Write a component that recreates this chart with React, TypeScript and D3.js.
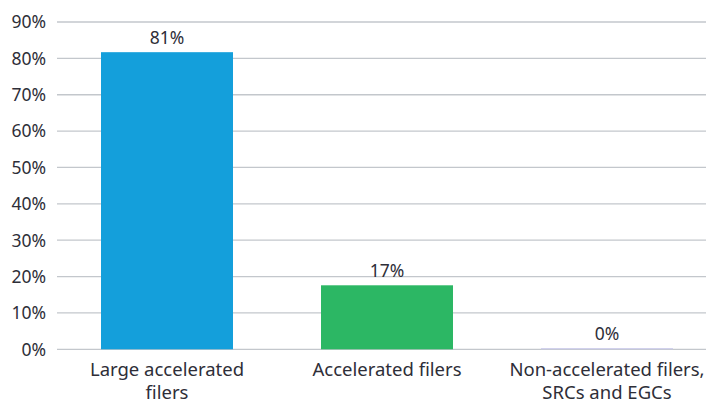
import React from "react";
import * as d3 from "d3";

const categories: string[][] = [
  ["Large accelerated", "filers"],
  ["Accelerated filers"],
  ["Non-accelerated filers,", "SRCs and EGCs"],
];
const values: number[] = [81.7, 17.6, 0.3];
const valueLabels: string[] = ["81%", "17%", "0%"];
const colors: string[] = ["#149fdb", "#2cb764", "#c9c9ea"];
const yTicks: number[] = [0, 10, 20, 30, 40, 50, 60, 70, 80, 90];

const W = 706;
const H = 400;
const FONT = "'Noto Sans', sans-serif";
const TEXT = "#2e2e38";

export default function App() {
  const x = d3
    .scaleBand<number>()
    .domain(d3.range(categories.length))
    .range([57, 717])
    .paddingInner(0.4)
    .paddingOuter(0.2);
  const y = d3.scaleLinear().domain([0, 90]).range([349.3, 22]);

  return (
    <svg
      width={W}
      height={H}
      style={{ position: "absolute", left: 0, top: 0, fontFamily: FONT }}
    >
      {yTicks.map((t) => (
        <g key={t}>
          <line
            x1={57}
            x2={W}
            y1={y(t)}
            y2={y(t)}
            stroke="#c3c7cc"
            strokeWidth={1.3}
          />
          <text
            x={46}
            y={y(t)}
            dy="0.36em"
            textAnchor="end"
            fontSize={17.5}
            fill={TEXT}
          >
            {t}%
          </text>
        </g>
      ))}
      {values.map((v, i) => (
        <g key={i}>
          <rect
            x={x(i)}
            y={y(v)}
            width={x.bandwidth()}
            height={y(0) - y(v)}
            fill={colors[i]}
          />
          <text
            x={(x(i) as number) + x.bandwidth() / 2}
            y={y(v) - 8}
            textAnchor="middle"
            fontSize={17.5}
            fill={TEXT}
          >
            {valueLabels[i]}
          </text>
          {categories[i].map((line, j) => (
            <text
              key={j}
              x={(x(i) as number) + x.bandwidth() / 2}
              y={376 + j * 23}
              textAnchor="middle"
              fontSize={18.5}
              fill={TEXT}
            >
              {line}
            </text>
          ))}
        </g>
      ))}
    </svg>
  );
}
